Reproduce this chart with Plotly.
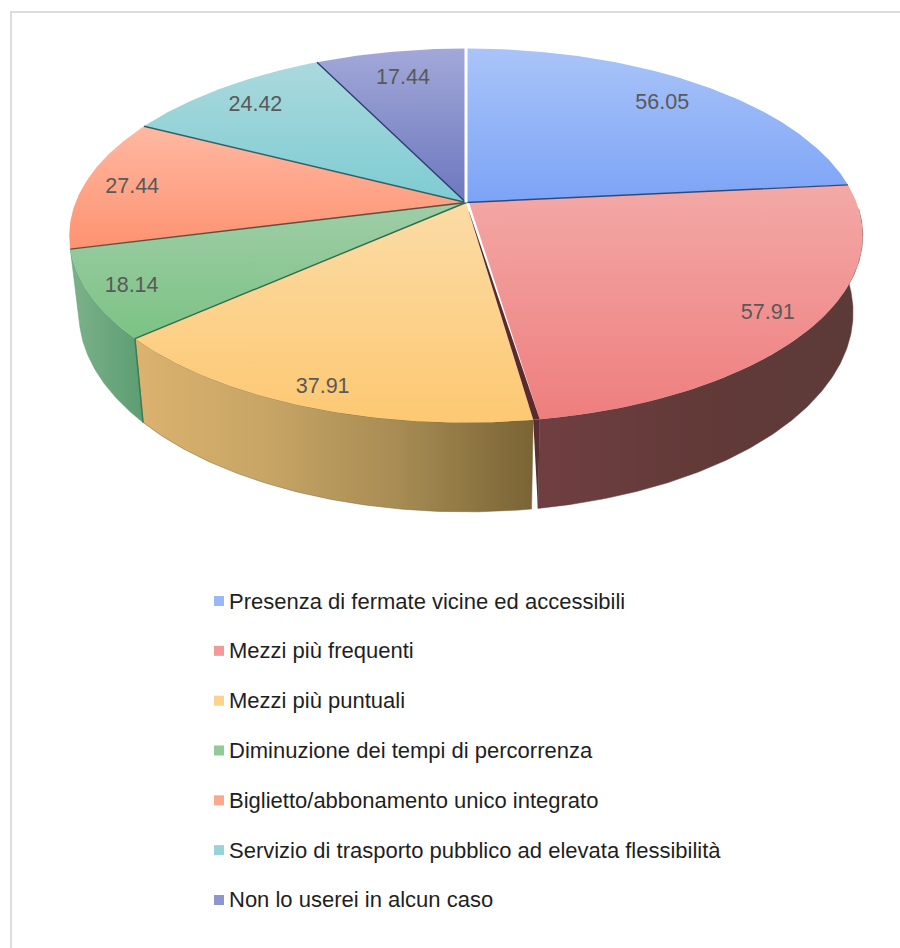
import math
import plotly.graph_objects as go

# ---- data ----
categories = [
    "Presenza di fermate vicine ed accessibili",
    "Mezzi più frequenti",
    "Mezzi più puntuali",
    "Diminuzione dei tempi di percorrenza",
    "Biglietto/abbonamento unico integrato",
    "Servizio di trasporto pubblico ad elevata flessibilità",
    "Non lo userei in alcun caso",
]
values = [56.05, 57.91, 37.91, 18.14, 27.44, 24.42, 17.44]

# ---- styles ----
top_light = ["#a9c4f8", "#f3a9a7", "#fbdca6", "#a0cda7", "#ffb8a2", "#abd9dd", "#a2a8d8"]
top_deep = ["#7ca3f6", "#ee7e7e", "#fdc872", "#7bc384", "#fd9270", "#7dccd2", "#6c77be"]
legend_colors = ["#9ab8f5", "#f19a9a", "#fcd28c", "#92c997", "#fda88c", "#97d3d8", "#8f96cd"]
edge_colors = ["#2c4a80", "#5a2a2c", "#2f6d4a", "#5f4f42", "#2f6266", "#2d3a70", "#ffffff"]
wall_scales = {
    1: ["#703e41", "#623a38", "#5c3a38"],
    2: ["#dcb26f", "#c7a565", "#a68b53", "#7a6435"],
    3: ["#7cb28a", "#5c9d72"],
}
label_radius = [0.83, 0.885, 0.913, 0.897, 0.875, 0.85, 0.81]
label_color = "#595959"

# ---- projection of the tilted disc into page pixels ----
CX, CY = 466, 202.5
TILT = 0.1765
AX, BY = 390.5, 181.2
BOT_AX, BOT_BY, BOT_CY = 381, 193, 277.5
TEXT_DROP = 2


def project(deg, r=1.0, bottom=False):
    t = math.radians(deg)
    u, v = r * math.sin(t), -r * math.cos(t)
    w = 1 - TILT * v
    ax, by, cy = (BOT_AX, BOT_BY, BOT_CY) if bottom else (AX, BY, CY)
    return CX + ax * u / w, cy + by * v / w


def arc(a, b, bottom=False):
    n = max(2, int(abs(b - a) * 2))
    return [project(a + (b - a) * i / n, 1.0, bottom) for i in range(n + 1)]


def poly(points, **kw):
    xs = [p[0] for p in points] + [points[0][0]]
    ys = [p[1] for p in points] + [points[0][1]]
    return go.Scatter(x=xs, y=ys, mode="lines", fill="toself", hoverinfo="skip",
                      showlegend=False, **kw)


def stops(colors):
    return [[i / (len(colors) - 1), c] for i, c in enumerate(colors)]


total = sum(values)
bounds = [0.0]
for val in values:
    bounds.append(bounds[-1] + val / total * 360)

fig = go.Figure()
RED_GAP = 0.4  # half opening, degrees, of the dark cut between red and yellow
cut = bounds[2]

# side walls
for i, colors in wall_scales.items():
    a, b = bounds[i], bounds[i + 1]
    if i == 1:
        a = max(a, 92)
        b = cut - RED_GAP
    if i == 2:
        a = cut + RED_GAP
    pts = arc(a, b) + arc(a, b, True)[::-1]
    fig.add_trace(poly(pts, line=dict(width=0.5, color=colors[-1]),
                       fillgradient=dict(type="horizontal", colorscale=stops(colors))))

# dark strip on the red wall, at the cut
fig.add_trace(poly([project(cut + RED_GAP), project(cut - RED_GAP), project(cut - RED_GAP, 1.0, True)],
                   line=dict(width=0), fillcolor="#5a2d31"))
# edge between yellow and green walls
e0, e1 = project(bounds[3]), project(bounds[3], 1.0, True)
fig.add_trace(go.Scatter(x=[e0[0], e1[0]], y=[e0[1], e1[1]], mode="lines", hoverinfo="skip",
                         showlegend=False, line=dict(color="#3d7a5a", width=1.5)))

# top faces
for i in range(len(values)):
    a, b = bounds[i], bounds[i + 1]
    apex = (CX, CY)
    if i == 1:
        b = cut - RED_GAP
        apex = (CX + 3, CY)
    if i == 2:
        a = cut + RED_GAP
    pts = [apex] + arc(a, b)
    fig.add_trace(poly(pts, line=dict(width=0),
                       fillgradient=dict(type="vertical",
                                         colorscale=[[0, top_deep[i]], [1, top_light[i]]])))

# dark cut between red and yellow
c0a = project(cut + RED_GAP, 0.05)
c0b = project(cut - RED_GAP, 0.05)
fig.add_trace(poly([c0a, c0b, project(cut - RED_GAP), project(cut + RED_GAP)],
                   line=dict(width=0), fillcolor=edge_colors[1]))

# separators between slices
for i in [1, 3, 4, 5, 6]:
    p = project(bounds[i])
    fig.add_trace(go.Scatter(x=[CX, p[0]], y=[CY, p[1]], mode="lines", hoverinfo="skip",
                             showlegend=False, line=dict(color=edge_colors[i - 1], width=1.4)))
p = project(0)
fig.add_trace(go.Scatter(x=[CX, p[0]], y=[CY, p[1] - 3], mode="lines", hoverinfo="skip",
                         showlegend=False, line=dict(color="#ffffff", width=3)))

# value labels
lab = [project((bounds[i] + bounds[i + 1]) / 2, label_radius[i]) for i in range(len(values))]
fig.add_trace(go.Scatter(x=[q[0] for q in lab], y=[q[1] + TEXT_DROP for q in lab], mode="text",
                         text=[f"{val:.2f}" for val in values], hoverinfo="skip", showlegend=False,
                         textposition="middle center",
                         textfont=dict(family="Liberation Sans", size=21.5, color=label_color)))

# legend column
LEG_X, LEG_TOP, LEG_STEP = 219, 601, 49.83
rows = [LEG_TOP + LEG_STEP * i for i in range(len(categories))]
fig.add_trace(go.Scatter(x=[LEG_X] * len(rows), y=rows, mode="markers", hoverinfo="skip", showlegend=False,
                         marker=dict(symbol="square", size=10, color=legend_colors, line=dict(width=0))))
fig.add_trace(go.Scatter(x=[LEG_X + 10] * len(rows), y=[r + TEXT_DROP for r in rows], mode="text",
                         text=categories, hoverinfo="skip",
                         showlegend=False, textposition="middle right",
                         textfont=dict(family="Liberation Sans", size=22, color="#1f1f1f")))

fig.update_layout(
    width=900, height=948, margin=dict(l=0, r=0, t=0, b=0),
    paper_bgcolor="#ffffff", plot_bgcolor="#ffffff", showlegend=False,
    xaxis=dict(range=[0, 900], visible=False, fixedrange=True),
    yaxis=dict(range=[948, 0], visible=False, fixedrange=True),
    shapes=[
        dict(type="line", x0=11, x1=11, y0=12, y1=948, line=dict(color="#dcdcdc", width=2)),
        dict(type="line", x0=10, x1=900, y0=12, y1=12, line=dict(color="#dcdcdc", width=2)),
    ],
)
fig.write_html("out.html", config={"displayModeBar": False},
               post_script="document.body.style.margin='0';document.body.style.overflow='hidden';")
